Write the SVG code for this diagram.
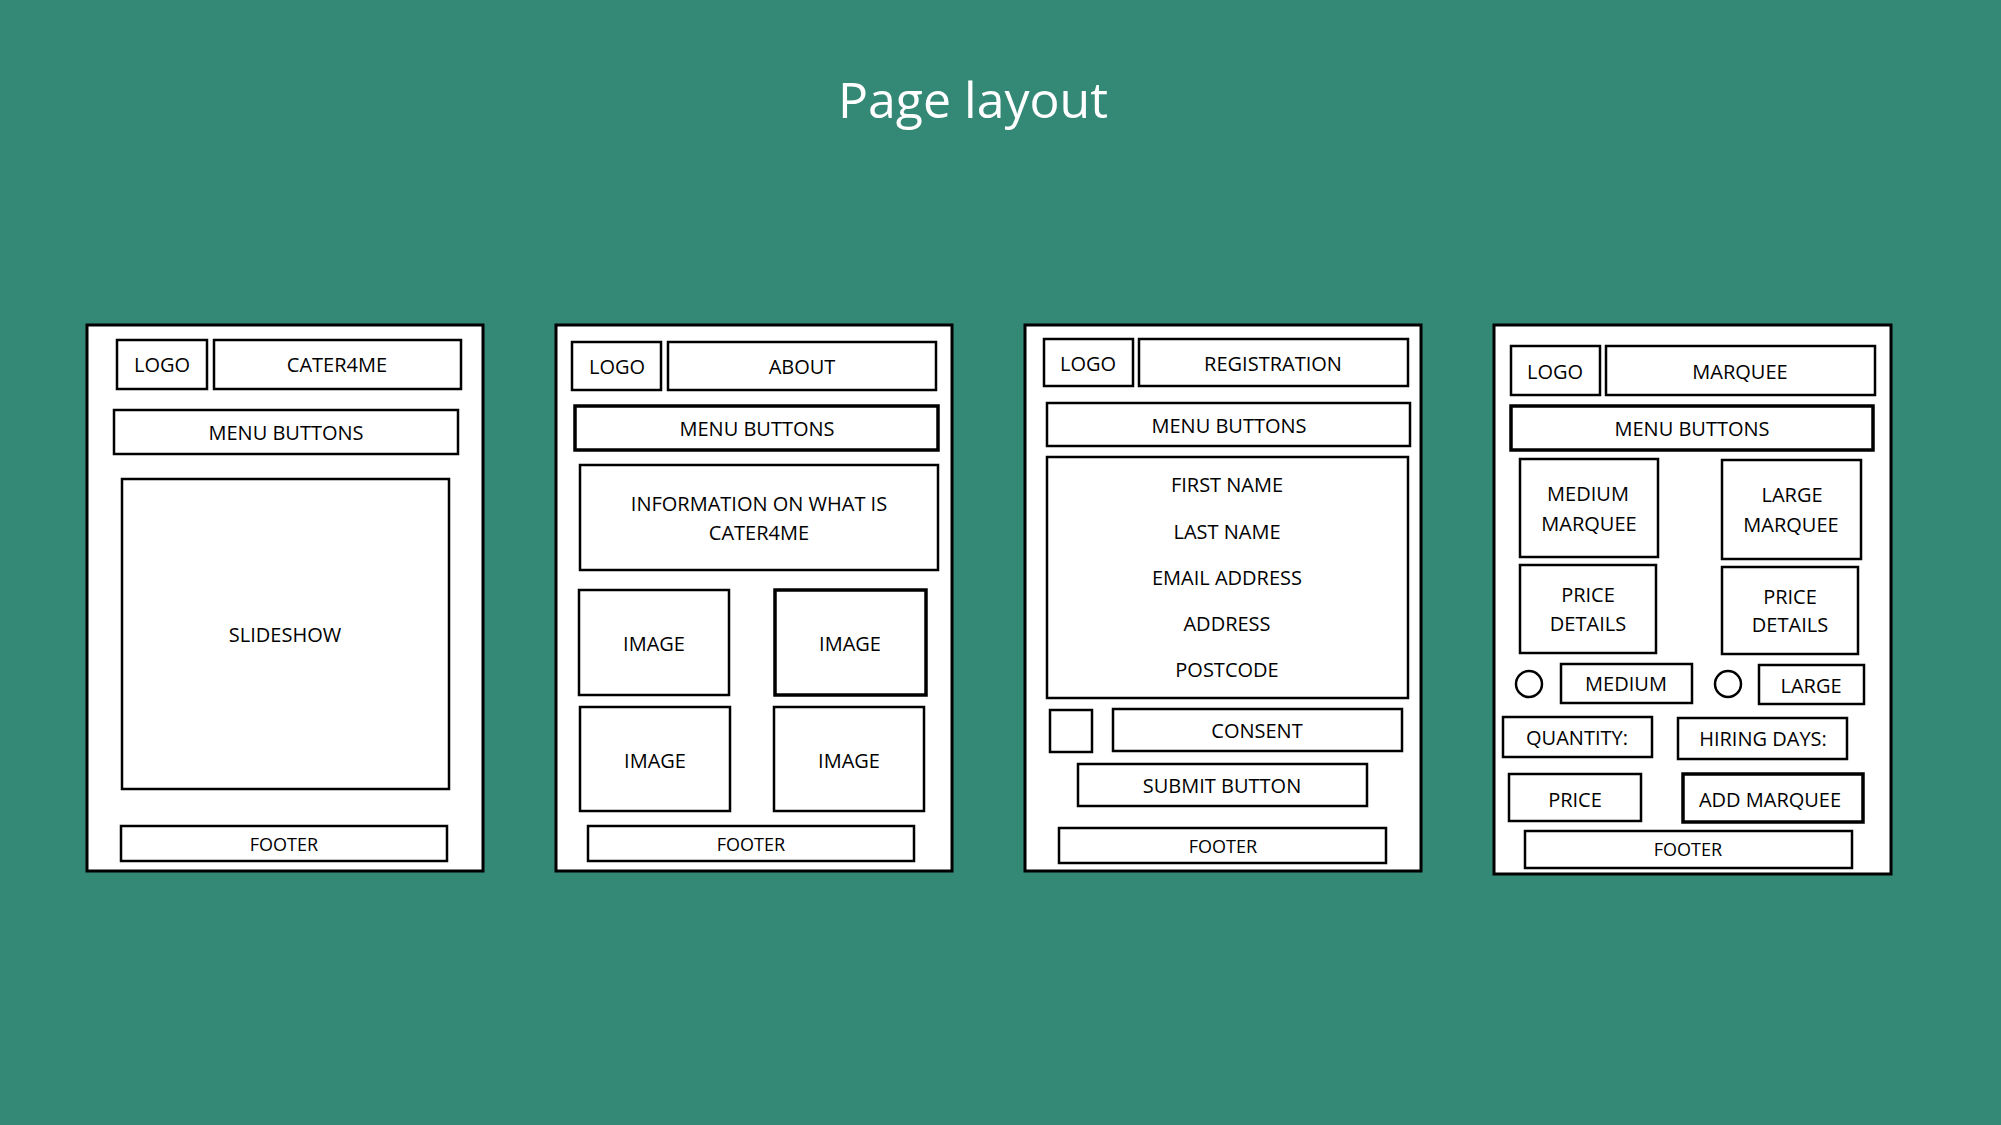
<svg xmlns="http://www.w3.org/2000/svg" width="2001" height="1125" viewBox="0 0 2001 1125">
<style>
.bg{fill:#348876}
.page{fill:#fff;stroke:#000;stroke-width:3}
.b{fill:#fff;stroke:#000;stroke-width:2.5}
.bt{fill:#fff;stroke:#000;stroke-width:3.5}
text{font-family:"Open Sans","Liberation Sans",sans-serif;font-size:20px;fill:#000;text-anchor:middle}
.f{font-size:18px}
.title{font-size:50px;fill:#fff}
</style>
<rect class="bg" x="0" y="0" width="2001" height="1125"/>
<text class="title" x="973" y="118">Page layout</text>

<g id="page-home">
<rect class="page" x="87" y="325" width="396" height="546"/>
<g id="home-logo"><rect class="b" x="117" y="340" width="90" height="49"/><text x="162" y="372">LOGO</text></g>
<g id="home-title"><rect class="b" x="214" y="340" width="247" height="49"/><text x="337" y="372">CATER4ME</text></g>
<g id="home-menu"><rect class="b" x="114" y="410" width="344" height="44"/><text x="286" y="440">MENU BUTTONS</text></g>
<g id="home-slideshow"><rect class="b" x="122" y="479" width="327" height="310"/><text x="285" y="642">SLIDESHOW</text></g>
<g id="home-footer"><rect class="b" x="121" y="826" width="326" height="35"/><text class="f" x="284" y="851">FOOTER</text></g>
</g>

<g id="page-about">
<rect class="page" x="556" y="325" width="396" height="546"/>
<g id="about-logo"><rect class="b" x="572" y="342" width="89" height="48"/><text x="617" y="374">LOGO</text></g>
<g id="about-title"><rect class="b" x="668" y="342" width="268" height="48"/><text x="802" y="374">ABOUT</text></g>
<g id="about-menu"><rect class="bt" x="575" y="406" width="363" height="44"/><text x="757" y="436">MENU BUTTONS</text></g>
<g id="about-info"><rect class="b" x="580" y="465" width="358" height="105"/><text x="759" y="511">INFORMATION ON WHAT IS</text><text x="759" y="540">CATER4ME</text></g>
<g id="about-image1"><rect class="b" x="579" y="590" width="150" height="105"/><text x="654" y="651">IMAGE</text></g>
<g id="about-image2"><rect class="bt" x="775" y="590" width="151" height="105"/><text x="850" y="651">IMAGE</text></g>
<g id="about-image3"><rect class="b" x="580" y="707" width="150" height="104"/><text x="655" y="768">IMAGE</text></g>
<g id="about-image4"><rect class="b" x="774" y="707" width="150" height="104"/><text x="849" y="768">IMAGE</text></g>
<g id="about-footer"><rect class="b" x="588" y="826" width="326" height="35"/><text class="f" x="751" y="851">FOOTER</text></g>
</g>

<g id="page-registration">
<rect class="page" x="1025" y="325" width="396" height="546"/>
<g id="reg-logo"><rect class="b" x="1044" y="339" width="89" height="47"/><text x="1088" y="371">LOGO</text></g>
<g id="reg-title"><rect class="b" x="1139" y="339" width="269" height="47"/><text x="1273" y="371">REGISTRATION</text></g>
<g id="reg-menu"><rect class="b" x="1047" y="403" width="363" height="43"/><text x="1229" y="433">MENU BUTTONS</text></g>
<g id="reg-form"><rect class="b" x="1047" y="457" width="361" height="241"/>
<text x="1227" y="492">FIRST NAME</text>
<text x="1227" y="539">LAST NAME</text>
<text x="1227" y="585">EMAIL ADDRESS</text>
<text x="1227" y="631">ADDRESS</text>
<text x="1227" y="677">POSTCODE</text></g>
<g id="reg-checkbox"><rect class="b" x="1050" y="710" width="42" height="42"/></g>
<g id="reg-consent"><rect class="b" x="1113" y="709" width="289" height="42"/><text x="1257" y="738">CONSENT</text></g>
<g id="reg-submit"><rect class="b" x="1078" y="764" width="289" height="42"/><text x="1222" y="793">SUBMIT BUTTON</text></g>
<g id="reg-footer"><rect class="b" x="1059" y="828" width="327" height="35"/><text class="f" x="1223" y="853">FOOTER</text></g>
</g>

<g id="page-marquee">
<rect class="page" x="1494" y="325" width="397" height="549"/>
<g id="mq-logo"><rect class="b" x="1511" y="346" width="89" height="49"/><text x="1555" y="379">LOGO</text></g>
<g id="mq-title"><rect class="b" x="1606" y="346" width="269" height="49"/><text x="1740" y="379">MARQUEE</text></g>
<g id="mq-menu"><rect class="bt" x="1511" y="406" width="362" height="44"/><text x="1692" y="436">MENU BUTTONS</text></g>
<g id="mq-medium-marquee"><rect class="b" x="1520" y="459" width="138" height="98"/><text x="1588" y="501">MEDIUM</text><text x="1589" y="531">MARQUEE</text></g>
<g id="mq-large-marquee"><rect class="b" x="1722" y="460" width="139" height="99"/><text x="1792" y="502">LARGE</text><text x="1791" y="532">MARQUEE</text></g>
<g id="mq-price-details-1"><rect class="b" x="1520" y="565" width="136" height="88"/><text x="1588" y="602">PRICE</text><text x="1588" y="631">DETAILS</text></g>
<g id="mq-price-details-2"><rect class="b" x="1722" y="567" width="136" height="87"/><text x="1790" y="604">PRICE</text><text x="1790" y="632">DETAILS</text></g>
<g id="mq-radio-medium"><circle class="b" cx="1529" cy="684" r="13"/></g>
<g id="mq-medium"><rect class="b" x="1561" y="664" width="131" height="39"/><text x="1626" y="691">MEDIUM</text></g>
<g id="mq-radio-large"><circle class="b" cx="1728" cy="684" r="13"/></g>
<g id="mq-large"><rect class="b" x="1759" y="665" width="105" height="39"/><text x="1811" y="693">LARGE</text></g>
<g id="mq-quantity"><rect class="b" x="1503" y="717" width="149" height="40"/><text x="1577" y="745">QUANTITY:</text></g>
<g id="mq-hiring"><rect class="b" x="1678" y="718" width="169" height="41"/><text x="1763" y="746">HIRING DAYS:</text></g>
<g id="mq-price"><rect class="b" x="1509" y="774" width="132" height="47"/><text x="1575" y="807">PRICE</text></g>
<g id="mq-add"><rect class="bt" x="1683" y="774" width="180" height="48"/><text x="1770" y="807">ADD MARQUEE</text></g>
<g id="mq-footer"><rect class="b" x="1525" y="831" width="327" height="37"/><text class="f" x="1688" y="856">FOOTER</text></g>
</g>

<g id="connectors"></g>
</svg>
